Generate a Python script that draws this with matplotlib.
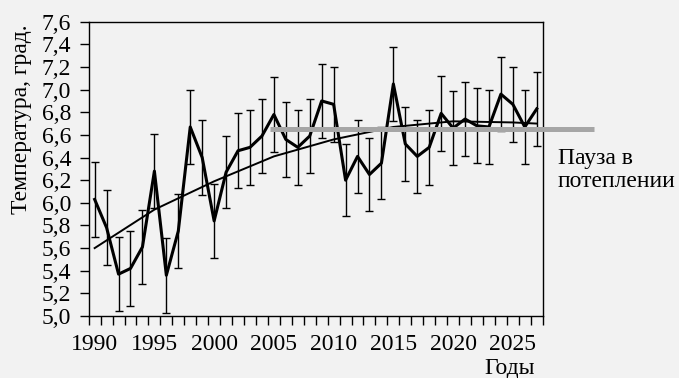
import numpy as np
import matplotlib
matplotlib.use('Agg')
import matplotlib.pyplot as plt
from matplotlib.ticker import FuncFormatter, FixedLocator

plt.rcParams['font.family'] = ['Liberation Serif', 'DejaVu Serif']

# данные
years = list(range(1990, 2028))
temps = [6.03, 5.78, 5.37, 5.42, 5.61, 6.28, 5.36, 5.75, 6.67, 6.40,
         5.84, 6.27, 6.46, 6.49, 6.59, 6.78, 6.56, 6.49, 6.59, 6.90,
         6.87, 6.20, 6.41, 6.25, 6.35, 7.05, 6.52, 6.41, 6.49, 6.79,
         6.66, 6.74, 6.68, 6.67, 6.96, 6.87, 6.67, 6.83]
errs = [0.33, 0.33, 0.33, 0.33, 0.33, 0.33, 0.33, 0.33, 0.33, 0.33,
        0.33, 0.32, 0.33, 0.33, 0.33, 0.33, 0.33, 0.33, 0.33, 0.33,
        0.33, 0.32, 0.32, 0.32, 0.32, 0.33, 0.33, 0.32, 0.33, 0.33,
        0.33, 0.33, 0.33, 0.33, 0.33, 0.33, 0.33, 0.33]

# полиномиальный тренд
trend_years = [1990, 1995, 2000, 2005, 2010, 2015, 2020, 2025, 2027]
trend_vals = [5.60, 5.94, 6.19, 6.41, 6.56, 6.67, 6.72, 6.71, 6.70]

# "пауза в потеплении"
pause_years = [2004.7, 2031.75]
pause_vals = [6.65, 6.65]

xtick_years = [1990, 1995, 2000, 2005, 2010, 2015, 2020, 2025]

bg = '#f2f2f2'
fs = 17
fig = plt.figure(figsize=(6.79, 3.78), dpi=100, facecolor=bg)
ax = fig.add_axes([0.1306, 0.164, 0.6687, 0.7786])
ax.set_facecolor(bg)

ax.errorbar(years, temps, yerr=errs, fmt='none', ecolor='black',
            elinewidth=1.0, capsize=3, capthick=1.0, zorder=2)
ax.plot(years, temps, color='black', lw=2.2, zorder=3)
ax.plot(trend_years, trend_vals, color='black', lw=1.4, zorder=3)
ax.plot(pause_years, pause_vals, color='#a6a6a6', lw=3.6,
        solid_capstyle='butt', clip_on=False, zorder=5)

ax.set_xlim(1989.5, 2027.5)
ax.set_ylim(5.0, 7.6)

ax.xaxis.set_major_locator(FixedLocator(xtick_years))
ax.xaxis.set_minor_locator(FixedLocator(np.arange(1989.5, 2028, 1.0)))
ax.yaxis.set_major_locator(FixedLocator(np.arange(5.0, 7.61, 0.2)))
ax.yaxis.set_major_formatter(FuncFormatter(lambda v, p: f'{v:.1f}'.replace('.', ',')))

ax.tick_params(axis='x', which='major', length=0, pad=13, labelsize=fs)
ax.tick_params(axis='x', which='minor', length=6.5, width=1.0, direction='out')
ax.tick_params(axis='y', which='major', length=6.5, width=1.0, direction='out',
               pad=6, labelsize=fs)

for s in ax.spines.values():
    s.set_linewidth(1.0)
    s.set_color('black')

ax.set_xlabel('Годы', fontsize=fs, ha='center', va='center')
ax.xaxis.set_label_coords(0.928, -0.178)
ax.set_ylabel('Температура, град.', fontsize=fs, va='center')
ax.yaxis.set_label_coords(-0.147, 0.67)

fig.text(558 / 679, 1 - 164 / 378, 'Пауза в', fontsize=fs,
         ha='left', va='baseline')
fig.text(558 / 679, 1 - 187 / 378, 'потеплении', fontsize=fs,
         ha='left', va='baseline')

fig.savefig('out.png', dpi=100, facecolor=bg)
